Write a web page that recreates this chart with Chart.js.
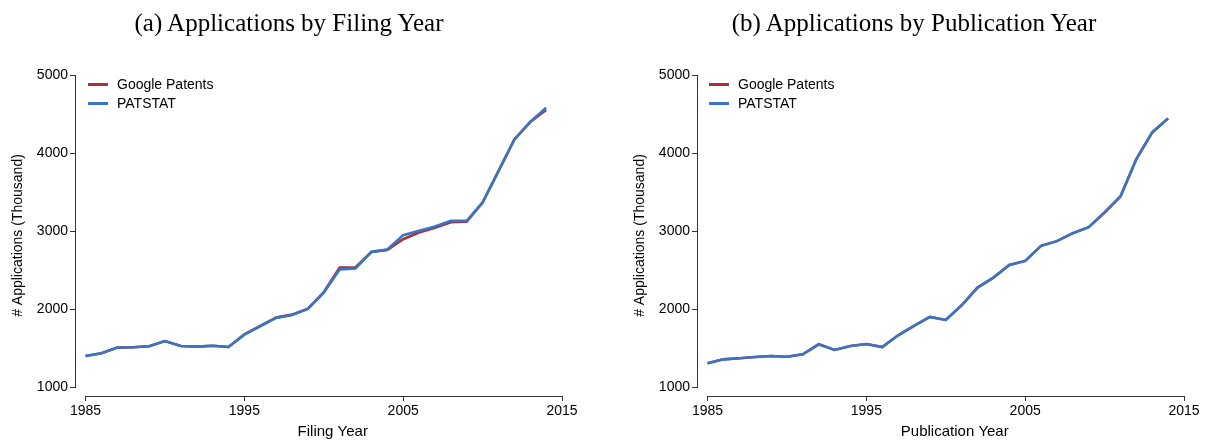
<!DOCTYPE html>
<html>
<head>
<meta charset="utf-8">
<script src="https://cdn.jsdelivr.net/npm/chart.js@4"></script>
<style>
  html, body { margin:0; padding:0; background:#fff; }
  #wrap { position:relative; width:1225px; height:444px; overflow:hidden; }
  .panel { position:absolute; top:0; height:444px; }
  .title { position:absolute; top:10px; font-family:"Liberation Serif","DejaVu Serif",serif; font-size:25px; line-height:25px; color:#000; white-space:nowrap; transform:translateX(-50%); }
  .legend { position:absolute; font-family:"Liberation Sans",Arial,Helvetica,sans-serif; font-size:14px; color:#000; }
  .legend div { height:19px; line-height:19px; white-space:nowrap; }
  .legend span.sw { display:inline-block; width:20px; height:2.5px; vertical-align:middle; margin-right:9px; position:relative; top:-1px; }
</style>
</head>
<body>
<div id="wrap">
  <div class="panel" style="left:0;width:612px;"><canvas id="c1" width="612" height="444"></canvas></div>
  <div class="panel" style="left:612px;width:613px;"><canvas id="c2" width="613" height="444"></canvas></div>
  <div class="title" style="left:289px;">(a) Applications by Filing Year</div>
  <div class="title" style="left:914px;">(b) Applications by Publication Year</div>
  <div class="legend" style="left:88px;top:75px;">
    <div><span class="sw" style="background:#a3343b"></span>Google Patents</div>
    <div><span class="sw" style="background:#3a75c4"></span>PATSTAT</div>
  </div>
  <div class="legend" style="left:709px;top:75px;">
    <div><span class="sw" style="background:#a3343b"></span>Google Patents</div>
    <div><span class="sw" style="background:#3a75c4"></span>PATSTAT</div>
  </div>
</div>
<script>
const years = [1985,1986,1987,1988,1989,1990,1991,1992,1993,1994,1995,1996,1997,1998,1999,2000,2001,2002,2003,2004,2005,2006,2007,2008,2009,2010,2011,2012,2013,2014];

// (a) by filing year, thousands
const filingGoogle  = [1398,1432,1505,1509,1522,1590,1526,1518,1530,1513,1675,1785,1890,1928,2005,2215,2532,2536,2730,2758,2895,2981,3041,3113,3118,3366,3768,4174,4397,4551];
const filingPatstat = [1398,1432,1505,1509,1522,1590,1526,1518,1530,1513,1672,1779,1886,1924,2001,2211,2506,2519,2733,2762,2947,3002,3058,3130,3130,3366,3768,4174,4397,4580];

// (b) by publication year, thousands
const pubGoogle  = [1304,1355,1368,1385,1398,1389,1419,1548,1475,1526,1552,1513,1663,1783,1898,1860,2048,2275,2403,2566,2617,2810,2870,2972,3049,3238,3443,3922,4264,4444];
const pubPatstat = [1304,1355,1368,1385,1398,1389,1419,1548,1475,1526,1552,1513,1663,1783,1898,1860,2048,2275,2403,2566,2617,2810,2870,2972,3049,3238,3443,3922,4264,4444];

const xTicks = [1985,1995,2005,2015];
const yTicks = [1000,2000,3000,4000,5000];

const RED = '#a3343b', BLUE = '#3a75c4', AXIS = '#333333';
const SANS = '"Liberation Sans", Arial, Helvetica, sans-serif';

const axisLines = {
  id: 'axisLines',
  afterDraw(chart, args, opts) {
    const {ctx, scales:{x, y}} = chart;
    ctx.save();
    ctx.strokeStyle = AXIS; ctx.lineWidth = 1;
    ctx.beginPath();
    const x0 = x.getPixelForValue(xTicks[0]), x1 = x.getPixelForValue(xTicks[xTicks.length-1]);
    ctx.moveTo(x0, Math.round(x.top) + 0.5); ctx.lineTo(x1, Math.round(x.top) + 0.5);
    const y0 = y.getPixelForValue(yTicks[0]), y1 = y.getPixelForValue(yTicks[yTicks.length-1]);
    ctx.moveTo(Math.round(y.right) - 0.5, y0); ctx.lineTo(Math.round(y.right) - 0.5, y1);
    ctx.stroke();
    // x-axis title (Stata places it slightly right of the axis centre)
    ctx.fillStyle = '#000';
    ctx.font = '15px ' + SANS;
    ctx.textAlign = 'center';
    ctx.textBaseline = 'middle';
    ctx.fillText(opts.xTitle, (x0 + x1) / 2 + 9, 432);
    ctx.restore();
  }
};

function pts(vals) { return years.map((yr, i) => ({x: yr, y: vals[i]})); }

function makeChart(id, googleVals, patstatVals, xTitle, yWidth, padRight, yTitlePad) {
  return new Chart(document.getElementById(id), {
    type: 'line',
    data: {
      datasets: [
        { label: 'Google Patents', data: pts(googleVals), borderColor: RED, backgroundColor: RED, borderWidth: 2.6, pointRadius: 0, tension: 0, order: 2 },
        { label: 'PATSTAT', data: pts(patstatVals), borderColor: BLUE, backgroundColor: BLUE, borderWidth: 2.6, pointRadius: 0, tension: 0, order: 1 }
      ]
    },
    options: {
      responsive: false,
      animation: false,
      layout: { padding: { top: 75, right: padRight, bottom: 0, left: 0 } },
      plugins: { legend: { display: false }, tooltip: { enabled: false }, title: { display: false }, axisLines: { xTitle } },
      scales: {
        x: {
          type: 'linear', min: 1984.4, max: 2015,
          afterBuildTicks: s => { s.ticks = xTicks.map(v => ({value: v})); },
          afterFit: s => { s.height = 48; },
          ticks: { color: '#000', font: { family: SANS, size: 14 }, padding: 2, maxRotation: 0, autoSkip: false, callback: v => String(v) },
          grid: { drawOnChartArea: false, drawTicks: true, tickLength: 5, color: AXIS, lineWidth: 1 },
          border: { display: false },
          title: { display: false }
        },
        y: {
          type: 'linear', min: 885, max: 5000,
          afterBuildTicks: s => { s.ticks = yTicks.map(v => ({value: v})); },
          afterFit: s => { s.width = yWidth; },
          ticks: { color: '#000', font: { family: SANS, size: 14 }, padding: 2, autoSkip: false, callback: v => String(v) },
          grid: { drawOnChartArea: false, drawTicks: true, tickLength: 6, color: AXIS, lineWidth: 1 },
          border: { display: false },
          title: { display: true, text: '# Applications (Thousand)', color: '#000', font: { family: SANS, size: 14 }, padding: { top: yTitlePad, bottom: 0 } }
        }
      }
    },
    plugins: [axisLines]
  });
}

makeChart('c1', filingGoogle, filingPatstat, 'Filing Year', 76, 50, 10);
makeChart('c2', pubGoogle, pubPatstat, 'Publication Year', 86, 41, 20);
</script>
</body>
</html>
